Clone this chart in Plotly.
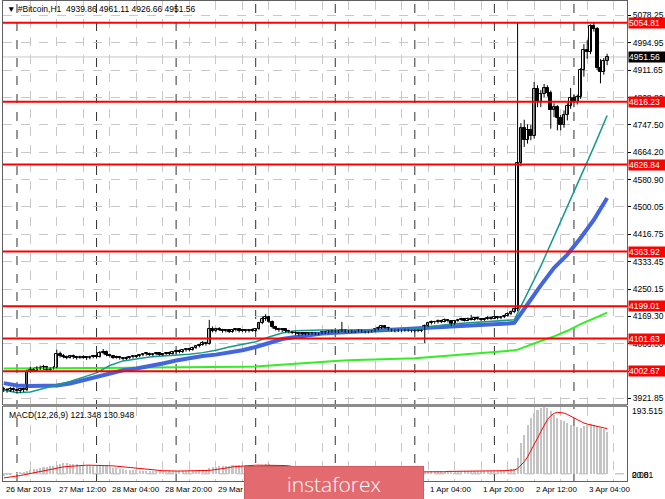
import plotly.graph_objects as go

# hourly bars, hour 0 = 27 Mar 2019 00:00
hours = list(range(-4, 179))

opens = [3950, 3946, 3944, 3950, 3945, 3942, 3948, 3945,
         4002, 4008, 4005, 4012, 4010, 4016, 4008, 4011,
         4014, 4056, 4050, 4046, 4044, 4048, 4045, 4043,
         4047, 4044, 4042, 4046, 4049, 4046, 4059, 4062,
         4052, 4048, 4044, 4047, 4042, 4040, 4043, 4045,
         4047, 4049, 4051, 4054, 4056, 4052, 4054, 4057,
         4053, 4055, 4058, 4055, 4060, 4063, 4061, 4066,
         4069, 4067, 4074, 4079, 4083, 4089, 4085, 4130,
         4125, 4131, 4128, 4123, 4127, 4122, 4126, 4129,
         4124, 4127, 4123, 4128, 4125, 4130, 4148, 4162,
         4166, 4152, 4136, 4130, 4126, 4129, 4124, 4121,
         4119, 4117, 4114, 4118, 4115, 4117, 4119, 4115,
         4118, 4121, 4119, 4123, 4125, 4121, 4124, 4126,
         4122, 4125, 4121, 4123, 4126, 4122, 4120, 4123,
         4125, 4129, 4134, 4139, 4134, 4129, 4126, 4124,
         4127, 4125, 4128, 4125, 4123, 4126, 4124, 4126,
         4140, 4148, 4152, 4150, 4155, 4152, 4158, 4154,
         4145, 4155, 4158, 4160, 4156, 4162, 4159, 4163,
         4160, 4157, 4161, 4165, 4162, 4166, 4163, 4166,
         4171, 4177, 4182, 4190, 4631, 4738, 4700, 4732,
         4712, 4855, 4815, 4840, 4858, 4842, 4790, 4800,
         4768, 4745, 4776, 4805, 4828, 4815, 4832, 4912,
         4972, 4966, 5046, 5036, 4918, 4905, 4939.86]
highs = [3956, 3952, 3955, 3954, 3950, 3952, 3953, 4008,
         4016, 4013, 4018, 4020, 4022, 4019, 4015, 4018,
         4068, 4062, 4055, 4050, 4052, 4053, 4049, 4050,
         4051, 4048, 4050, 4052, 4053, 4064, 4070, 4065,
         4056, 4051, 4050, 4049, 4046, 4047, 4048, 4050,
         4052, 4054, 4057, 4060, 4059, 4057, 4060, 4060,
         4058, 4061, 4062, 4063, 4066, 4068, 4069, 4072,
         4073, 4077, 4082, 4086, 4094, 4092, 4158, 4138,
         4134, 4136, 4131, 4130, 4130, 4129, 4133, 4132,
         4130, 4129, 4130, 4132, 4133, 4152, 4168, 4175,
         4170, 4156, 4140, 4134, 4132, 4131, 4128, 4125,
         4123, 4121, 4120, 4121, 4120, 4122, 4121, 4120,
         4124, 4125, 4126, 4128, 4127, 4127, 4152, 4129,
         4127, 4128, 4126, 4129, 4128, 4125, 4125, 4127,
         4131, 4138, 4142, 4141, 4137, 4131, 4129, 4130,
         4129, 4131, 4130, 4128, 4129, 4129, 4129, 4144,
         4152, 4156, 4155, 4159, 4158, 4162, 4160, 4157,
         4158, 4161, 4164, 4163, 4165, 4173, 4166, 4168,
         4163, 4164, 4170, 4168, 4169, 4168, 4169, 4174,
         4180, 4186, 4195, 5054.81, 4752, 4762, 4748, 4746,
         4876, 4866, 4852, 4870, 4866, 4850, 4812, 4806,
         4776, 4790, 4812, 4858, 4836, 4838, 4918, 4990,
         5002, 5050, 5054, 5042, 4945, 4948, 4961.11]
lows = [3940, 3938, 3940, 3941, 3936, 3938, 3940, 3943,
        3998, 4000, 4003, 4006, 4007, 4004, 4003, 4008,
        4012, 4044, 4042, 4039, 4041, 4040, 4038, 4040,
        4040, 4037, 4039, 4042, 4041, 4044, 4054, 4048,
        4044, 4040, 4041, 4038, 4036, 4037, 4040, 4041,
        4043, 4045, 4048, 4050, 4049, 4048, 4051, 4050,
        4049, 4052, 4052, 4053, 4056, 4057, 4058, 4062,
        4063, 4065, 4070, 4075, 4080, 4080, 4083, 4120,
        4121, 4124, 4119, 4120, 4118, 4119, 4123, 4120,
        4121, 4119, 4120, 4122, 4122, 4128, 4145, 4155,
        4148, 4132, 4126, 4122, 4121, 4120, 4117, 4115,
        4112, 4110, 4111, 4111, 4112, 4113, 4112, 4112,
        4115, 4116, 4117, 4119, 4118, 4118, 4121, 4119,
        4119, 4118, 4118, 4121, 4119, 4117, 4117, 4120,
        4122, 4126, 4130, 4131, 4126, 4122, 4120, 4121,
        4121, 4122, 4122, 4120, 4120, 4121, 4121, 4088,
        4136, 4144, 4146, 4147, 4148, 4150, 4150, 4140,
        4143, 4152, 4155, 4153, 4154, 4156, 4156, 4157,
        4154, 4155, 4158, 4158, 4160, 4159, 4160, 4163,
        4168, 4172, 4178, 4184, 4622, 4680, 4690, 4700,
        4705, 4800, 4800, 4830, 4832, 4735, 4770, 4730,
        4730, 4738, 4760, 4795, 4800, 4808, 4825, 4892,
        4946, 4960, 5028, 4912, 4872, 4898, 4926.66]
closes = [3946, 3944, 3950, 3945, 3942, 3948, 3945, 4002,
          4008, 4005, 4012, 4010, 4016, 4008, 4011, 4014,
          4056, 4050, 4046, 4044, 4048, 4045, 4043, 4047,
          4044, 4042, 4046, 4049, 4046, 4059, 4062, 4052,
          4048, 4044, 4047, 4042, 4040, 4043, 4045, 4047,
          4049, 4051, 4054, 4056, 4052, 4054, 4057, 4053,
          4055, 4058, 4055, 4060, 4063, 4061, 4066, 4069,
          4067, 4074, 4079, 4083, 4089, 4085, 4130, 4125,
          4131, 4128, 4123, 4127, 4122, 4126, 4129, 4124,
          4127, 4123, 4128, 4125, 4130, 4148, 4162, 4166,
          4152, 4136, 4130, 4126, 4129, 4124, 4121, 4119,
          4117, 4114, 4118, 4115, 4117, 4119, 4115, 4118,
          4121, 4119, 4123, 4125, 4121, 4124, 4126, 4122,
          4125, 4121, 4123, 4126, 4122, 4120, 4123, 4125,
          4129, 4134, 4139, 4134, 4129, 4126, 4124, 4127,
          4125, 4128, 4125, 4123, 4126, 4124, 4126, 4140,
          4148, 4152, 4150, 4155, 4152, 4158, 4154, 4145,
          4155, 4158, 4160, 4156, 4162, 4159, 4163, 4160,
          4157, 4161, 4165, 4162, 4166, 4163, 4166, 4171,
          4177, 4182, 4190, 4631, 4738, 4700, 4732, 4712,
          4855, 4815, 4840, 4858, 4842, 4790, 4800, 4768,
          4745, 4776, 4805, 4828, 4815, 4832, 4912, 4972,
          4966, 5046, 5036, 4918, 4905, 4940, 4951.56]

# moving averages read at selected hours
ma_hours = [-4, 0, 4, 8, 12, 16, 20, 24, 28, 32, 36, 40, 44, 48, 52, 56,
            60, 64, 68, 72, 76, 80, 84, 88, 92, 96, 100, 104, 108, 112,
            116, 120, 124, 128, 132, 136, 140, 144, 148, 150, 151, 154,
            158, 162, 166, 170, 174, 178]
ma_fast = [3946, 3938, 3940, 3950, 3962, 3972, 3985, 3998, 4020, 4034,
           4040, 4046, 4049, 4051, 4054, 4059, 4066, 4076, 4084, 4092,
           4106, 4118, 4125, 4127, 4127, 4127, 4127, 4126, 4126, 4127,
           4128, 4130, 4137, 4142, 4146, 4149, 4151, 4153, 4156, 4158,
           4178, 4240, 4320, 4410, 4500, 4585, 4680, 4775]
ma_mid = [3967, 3960, 3958, 3958, 3960, 3966, 3976, 3986, 3997, 4006,
          4011, 4017, 4026, 4035, 4043, 4049, 4053, 4059, 4066, 4076,
          4088, 4100, 4106, 4112, 4117, 4119, 4121, 4123, 4126, 4128,
          4130, 4132, 4134, 4136, 4137, 4139, 4142, 4145, 4147, 4149,
          4164, 4205, 4262, 4315, 4355, 4405, 4460, 4526]
ma_slow = [4011, 4011, 4011, 4012, 4012, 4012, 4012, 4013, 4013, 4013,
           4013, 4014, 4014, 4014, 4015, 4015, 4015, 4016, 4016, 4017,
           4020, 4024, 4026, 4029, 4031, 4034, 4036, 4037, 4038, 4040,
           4041, 4042, 4045, 4048, 4051, 4054, 4057, 4060, 4064, 4066,
           4068, 4080, 4094, 4108, 4125, 4145, 4162, 4180]

macd_hist = [-6, -4, -2, 0, 2, 3, 4, 8,
             11, 13, 15, 17, 19, 21, 22, 23,
             27, 29, 30, 30, 29, 29, 28, 27,
             26, 25, 25, 24, 23, 24, 24, 22,
             20, 18, 16, 14, 13, 12, 11, 10,
             10, 9, 9, 9, 9, 8, 8, 8,
             8, 8, 8, 8, 8, 8, 8, 8,
             8, 9, 9, 10, 11, 12, 16, 19,
             21, 22, 23, 24, 24, 25, 25, 26,
             26, 25, 25, 24, 24, 25, 27, 29,
             29, 27, 25, 23, 21, 19, 17, 15,
             13, 11, 10, 9, 8, 7, 6, 6,
             5, 5, 5, 5, 5, 5, 6, 5,
             5, 4, 4, 4, 4, 4, 4, 4,
             5, 6, 7, 7, 6, 5, 5, 4,
             4, 4, 4, 4, 4, 4, 4, 5,
             6, 7, 7, 8, 8, 8, 8, 7,
             7, 8, 8, 8, 8, 9, 9, 9,
             9, 9, 9, 9, 9, 9, 10, 11,
             12, 13, 15, 46, 89, 112, 141, 161,
             176, 185, 190, 193.5, 190, 182, 170, 161,
             156, 153, 147, 141, 138, 136, 132, 138,
             141, 144, 141, 138, 134, 129, 121.348]
macd_signal = [-12, -11, -10, -9, -7, -5, -3, -1,
               1, 3, 5, 7, 9, 11, 13, 15,
               17, 18, 20, 21, 22, 23, 24, 24,
               25, 25, 25, 25, 25, 24, 24, 24,
               23, 23, 22, 21, 20, 19, 18, 16,
               15, 14, 13, 12, 11, 10, 10, 9,
               9, 9, 8, 8, 8, 8, 8, 8,
               8, 8, 8, 8, 9, 9, 10, 11,
               12, 14, 15, 17, 18, 20, 21, 22,
               23, 24, 24, 25, 25, 25, 25, 25,
               26, 26, 26, 25, 25, 24, 23, 22,
               20, 18, 16, 15, 13, 12, 10, 9,
               8, 7, 6, 6, 5, 5, 5, 5,
               5, 5, 5, 5, 5, 5, 5, 4,
               4, 5, 5, 5, 5, 5, 5, 5,
               5, 5, 5, 5, 5, 5, 5, 4,
               5, 5, 5, 6, 6, 6, 7, 7,
               7, 7, 7, 8, 8, 8, 8, 8,
               8, 8, 9, 9, 9, 9, 9, 9,
               10, 10, 11, 15, 24, 35, 49, 66,
               84, 103, 122, 141, 157, 168, 175, 178,
               178, 176, 172, 167, 161, 156, 151, 147,
               144, 142, 140, 138, 136, 133, 130.948]

levels = [5054.81, 4816.23, 4626.84, 4363.92, 4199.01, 4101.63, 4002.67]
last_price = 4951.56
price_ticks = [5078.25, 4994.95, 4911.65, 4828.80, 4747.50, 4664.20, 4580.90,
               4500.05, 4416.75, 4333.45, 4250.15, 4169.30, 4086.00, 4002.70,
               3921.85]
# 4002.70 sits under the 4002.67 level box, so its label is not shown
price_tick_text = [f"{v:.2f}" if v != 4002.70 else "" for v in price_ticks]
macd_labels = [(193.515, "193.515", "top"), (0, "20.81", "middle"), (0, "0.00", "middle")]

label_hours = [-4, 12, 28, 44, 60, 76, 92, 108, 124, 140, 156, 172]
label_text = ["26 Mar 2019", "27 Mar 12:00", "28 Mar 04:00", "28 Mar 20:00",
              "29 Mar 12:00", "30 Mar 04:00", "30 Mar 20:00", "31 Mar 12:00",
              "1 Apr 04:00", "1 Apr 20:00", "2 Apr 12:00", "3 Apr 04:00"]
day_starts = [0, 24, 48, 72, 96, 120, 144, 168]
grid_hours = list(range(-4, 184, 8))

FONT = "Liberation Sans"

# candle pieces built from the OHLC lists
wick_x, wick_y = [], []
for h, hi, lo in zip(hours, highs, lows):
    wick_x += [h, h, None]
    wick_y += [lo, hi, None]
body_base = [min(o, c) for o, c in zip(opens, closes)]
body_len = [max(abs(c - o), 2.5) for o, c in zip(opens, closes)]
body_fill = ["white" if c >= o else "black" for o, c in zip(opens, closes)]

fig = go.Figure()

fig.add_trace(go.Scatter(x=ma_hours, y=ma_slow, mode="lines",
                         line=dict(color="#33ee22", width=2), hoverinfo="skip"))
fig.add_trace(go.Scatter(x=ma_hours, y=ma_mid, mode="lines",
                         line=dict(color="#4466dd", width=4), hoverinfo="skip"))
fig.add_trace(go.Scatter(x=ma_hours, y=ma_fast, mode="lines",
                         line=dict(color="#169a8c", width=1.5), hoverinfo="skip"))
fig.add_trace(go.Scatter(x=wick_x, y=wick_y, mode="lines",
                         line=dict(color="black", width=1), hoverinfo="skip"))
fig.add_trace(go.Bar(x=hours, y=body_len, base=body_base, width=0.85,
                     marker=dict(color=body_fill, line=dict(color="black", width=1))))

fig.add_trace(go.Bar(x=hours, y=macd_hist, marker=dict(color="#c4c4c4", line=dict(width=0)),
                     width=0.62, xaxis="x2", yaxis="y2"))
fig.add_trace(go.Scatter(x=hours, y=macd_signal, mode="lines", line=dict(color="red", width=1),
                         xaxis="x2", yaxis="y2"))

shapes = []
for d in day_starts:
    shapes.append(dict(type="line", xref="x", yref="paper", x0=d, x1=d, y0=0, y1=1,
                       line=dict(color="#303030", width=1, dash="dash"), layer="below"))
shapes.append(dict(type="line", xref="paper", yref="y", x0=0, x1=1, y0=last_price, y1=last_price,
                   line=dict(color="#c8c8c8", width=1), layer="below"))
for lv in levels:
    shapes.append(dict(type="line", xref="paper", yref="y", x0=0, x1=1, y0=lv, y1=lv,
                       line=dict(color="#ff0000", width=2)))
shapes.append(dict(type="line", xref="paper", yref="y2", x0=0, x1=1, y0=0, y1=0,
                   line=dict(color="#b0b0b0", width=1, dash="dash"), layer="below"))
# pane separator
shapes.append(dict(type="line", xref="paper", yref="paper", x0=0, x1=1, y0=0.1573, y1=0.1573,
                   line=dict(color="#8c8c8c", width=3)))

ann = []
ann.append(dict(xref="paper", yref="paper", x=0.003, y=1, xanchor="left", yanchor="top", yshift=-1,
                text="▼ #Bitcoin,H1  4939.86 4961.11 4926.66 4951.56", showarrow=False,
                font=dict(family=FONT, size=8.5, color="black")))
ann.append(dict(xref="paper", yref="y2 domain", x=0.006, y=1, xanchor="left", yanchor="top", yshift=-1,
                text="MACD(12,26,9) 121.348 130.948", showarrow=False,
                font=dict(family=FONT, size=8.5, color="black")))
for v, t, anc in macd_labels:
    ann.append(dict(xref="paper", yref="y2", x=1, y=v, xanchor="left", yanchor=anc, xshift=3,
                    yshift=3 if anc == "top" else -1, text=t, showarrow=False,
                    font=dict(family=FONT, size=8.5, color="black")))
for lv in levels:
    ann.append(dict(xref="paper", yref="y", x=1, y=lv, xanchor="left", yanchor="middle", xshift=1,
                    text=f"{lv:.2f}", showarrow=False, bgcolor="#ff0000", width=36, height=10,
                    borderpad=0, align="left", font=dict(family=FONT, size=8.5, color="white")))
ann.append(dict(xref="paper", yref="y", x=1, y=last_price, xanchor="left", yanchor="middle", xshift=1,
                text=f"{last_price:.2f}", showarrow=False, bgcolor="black", width=36, height=10,
                borderpad=0, align="left", font=dict(family=FONT, size=8.5, color="white")))
for h, t in zip(label_hours, label_text):
    ann.append(dict(xref="x2", yref="paper", x=h, y=0, xanchor="left", yanchor="top", yshift=-2,
                    text=t, showarrow=False, font=dict(family=FONT, size=8, color="black")))
# watermark
ann.append(dict(xref="paper", yref="paper", x=0.5304, y=-0.006, xanchor="center", yanchor="middle",
                text="instaforex", showarrow=False, bgcolor="#e36b6f", bordercolor="#d05a5e",
                borderwidth=1, width=176, height=32,
                font=dict(family="Open Sans", size=21, color="white", weight=300)))

fig.update_layout(
    width=665, height=499,
    margin=dict(l=3, r=38, t=1, b=18),
    paper_bgcolor="white", plot_bgcolor="white",
    showlegend=False, bargap=0,
    shapes=shapes, annotations=ann,
    xaxis=dict(domain=[0, 1], anchor="y", range=[-4.22, 184.0], tickvals=grid_hours,
               showticklabels=False, showgrid=True, gridcolor="#c8c8c8", griddash="dash",
               zeroline=False, showline=True, mirror=True, linecolor="#606060"),
    xaxis2=dict(domain=[0, 1], anchor="y2", matches="x", range=[-4.22, 184.0], tickvals=grid_hours,
                showticklabels=False, showgrid=True, gridcolor="#c8c8c8", griddash="dash",
                zeroline=False, showline=True, mirror=True, linecolor="#606060"),
    yaxis=dict(domain=[0.1604, 1], anchor="x", side="right", range=[3903.9, 5120.5],
               tickvals=price_ticks, ticktext=price_tick_text,
               ticks="outside", ticklen=3, tickcolor="black",
               tickfont=dict(family=FONT, size=8.5, color="black"),
               showgrid=True, gridcolor="#c8c8c8", griddash="dash", zeroline=False,
               showline=True, mirror=True, linecolor="#606060"),
    yaxis2=dict(domain=[0, 0.1542], anchor="x2", side="right", range=[-20.81, 193.515],
                showticklabels=False, showgrid=False, zeroline=False,
                showline=True, mirror=True, linecolor="#606060"),
)

fig.write_html("out.html", config={"displayModeBar": False},
               post_script="document.body.style.margin='0';")
